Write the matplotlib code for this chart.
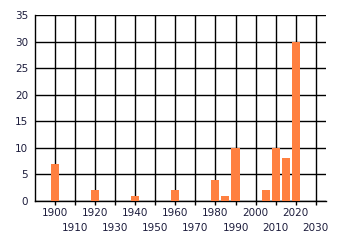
import matplotlib.pyplot as plt

years = [1900, 1920, 1940, 1960, 1980, 1985, 1990, 2005, 2010, 2015, 2020]
counts = [7, 2, 1, 2, 4, 1, 10, 2, 10, 8, 30]
upper_ticks = [1900, 1920, 1940, 1960, 1980, 2000, 2020]
lower_ticks = [1910, 1930, 1950, 1970, 1990, 2010, 2030]

text_color = '#1c1c3c'

fig = plt.figure(figsize=(3.4, 2.45), dpi=100)
ax = fig.add_axes([0.103, 0.18, 0.855, 0.759])

ax.bar(years, counts, width=4, color='#ff8040', zorder=3)

ax.set_xlim(1890, 2035)
ax.set_ylim(0, 35)
ax.set_yticks(range(0, 36, 5))
ax.set_xticks(upper_ticks)
ax.set_xticklabels([str(y) for y in upper_ticks])
ax.set_xticks(lower_ticks, minor=True)
ax.set_xticklabels([str(y) for y in lower_ticks], minor=True)

ax.grid(True, which='both', axis='x', color='black', linewidth=1, zorder=0)
ax.grid(True, axis='y', color='black', linewidth=1, zorder=0)
ax.set_axisbelow(True)
for side in ['right', 'top']:
  ax.spines[side].set_visible(False)
for side in ['left', 'bottom']:
  ax.spines[side].set_color('black')
  ax.spines[side].set_linewidth(1)

ax.tick_params(axis='x', which='major', length=3, width=1, pad=2, labelsize=7.5, labelcolor=text_color)
ax.tick_params(axis='x', which='minor', length=3, width=1, pad=13, labelsize=7.5, labelcolor=text_color)
ax.tick_params(axis='y', length=0, pad=5, labelsize=7.5, labelcolor=text_color)

fig.savefig('out.png', dpi=100)
